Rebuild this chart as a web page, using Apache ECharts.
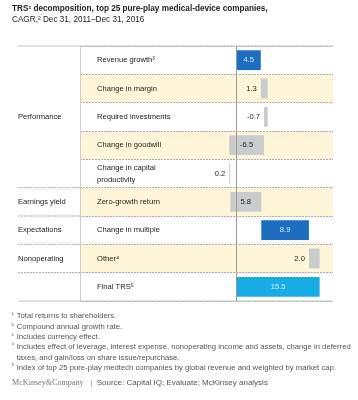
<!DOCTYPE html>
<html>
<head>
<meta charset="utf-8">
<script src="https://cdn.jsdelivr.net/npm/echarts@6/dist/echarts.min.js"></script>
<style>html,body{margin:0;padding:0;background:#fff;}#c{width:358px;height:400px;}</style>
</head>
<body>
<div id="c"></div>
<script>
// ---- data ----
const categories = ['Revenue growth³', 'Change in margin', 'Required investments', 'Change in goodwill',
  'Change in capital\nproductivity', 'Zero-growth return', 'Change in multiple', 'Other⁴', 'Final TRS⁵'];
const values = [4.5, 1.3, -0.7, -6.5, 0.2, 5.8, 8.9, 2.0, 15.5];
const kinds = ['main', 'delta', 'delta', 'delta', 'delta', 'delta', 'main', 'delta', 'total'];
const groupNames = ['Performance', 'Earnings yield', 'Expectations', 'Nonoperating'];
const groupStart = [0, 5, 6, 7];
const groupEnd = [4, 5, 6, 7];
const titleLines = ['TRS¹ decomposition, top 25 pure-play medical-device companies,', 'CAGR,² Dec 31, 2011–Dec 31, 2016'];
const footnotes = [
  ['¹', 'Total returns to shareholders.'],
  ['²', 'Compound annual growth rate.'],
  ['³', 'Includes currency effect.'],
  ['⁴', 'Includes effect of leverage, interest expense, nonoperating income and assets, change in deferred'],
  ['', 'taxes, and gain/loss on share issue/repurchase.'],
  ['⁵', 'Index of top 25 pure-play medtech companies by global revenue and weighted by market cap.']
];
const sourceText = 'Source: Capital IQ; Evaluate; McKinsey analysis';

// waterfall ranges built from the values
const ranges = [];
let run = 0;
values.forEach((v, i) => {
  if (kinds[i] === 'total') { ranges.push([i, 0, v, v]); }
  else { ranges.push([i, run, run + v, v]); run += v; }
});

const FONT = '"Liberation Sans", Arial, Helvetica, sans-serif';
const colors = { main: '#1C6FBF', delta: '#C9CCCC', total: '#17ACE6' };
const labelColors = { main: '#DCEAF8', delta: '#222', total: '#DCEFFA' };

const chart = echarts.init(document.getElementById('c'), null, { renderer: 'canvas' });

const option = {
  animation: false,
  backgroundColor: '#fff',
  grid: { left: 80, right: 25, top: 46, bottom: 99, containLabel: false },
  xAxis: { type: 'value', min: -29.3, max: 18, show: false },
  yAxis: {
    type: 'category', inverse: true, data: categories,
    axisLine: { show: true, onZero: false, lineStyle: { color: '#cfcfcf', width: 1 } },
    axisTick: { show: false },
    axisLabel: { inside: true, margin: 17, align: 'left', color: '#222', fontFamily: FONT, fontSize: 7.6, lineHeight: 12 },
    splitLine: { show: true, lineStyle: { color: '#aaa', type: [2, 1], width: 1 } },
    splitArea: { show: true, areaStyle: { color: ['#ffffff', '#FFF6D9'] } }
  },
  series: [{
    type: 'custom',
    data: ranges,
    encode: { x: [1, 2], y: 0 },
    renderItem: function (params, api) {
      const cat = api.value(0), s = api.value(1), e = api.value(2), v = api.value(3);
      const p0 = api.coord([s, cat]);
      const p1 = api.coord([e, cat]);
      const bh = api.size([0, 1])[1] * 0.7;
      const x = Math.min(p0[0], p1[0]);
      const w = Math.max(Math.abs(p1[0] - p0[0]), 1);
      const k = kinds[params.dataIndex];
      const inside = w >= 22;
      const txt = v.toFixed(1);
      return {
        type: 'group',
        children: [
          { type: 'rect', shape: { x: x, y: p0[1] - bh / 2, width: w, height: bh }, style: { fill: colors[k] } },
          { type: 'text', style: {
            text: txt, x: inside ? x + w / 2 : x - 4, y: p0[1],
            align: inside ? 'center' : 'right', verticalAlign: 'middle',
            fill: inside ? labelColors[k] : '#222', font: '7.6px ' + FONT
          } }
        ]
      };
    },
    markLine: {
      silent: true, symbol: 'none', label: { show: false },
      lineStyle: { color: '#9a9a9a', type: 'solid', width: 1 },
      data: [{ xAxis: 0 }]
    },
    z: 3
  }]
};
chart.setOption(option);

// layout helpers from the axis scale
const yc = i => chart.convertToPixel({ yAxisIndex: 0 }, i);
const band = yc(1) - yc(0);
const topY = yc(0) - band / 2;
const botY = yc(categories.length - 1) + band / 2;
const leftX = 18, rightX = 333;

const g = [];
titleLines.forEach((t, i) => g.push({ type: 'text', left: 12, top: 5 + i * 10.7,
  style: { text: t, font: (i === 0 ? 'bold ' : '') + '8.2px ' + FONT, fill: '#222' } }));
g.push({ type: 'line', shape: { x1: leftX, y1: topY, x2: rightX, y2: topY }, style: { stroke: '#c4c4c4', lineWidth: 1.2 }, z: 10 });
g.push({ type: 'line', shape: { x1: leftX, y1: botY, x2: rightX, y2: botY }, style: { stroke: '#c4c4c4', lineWidth: 1.2 }, z: 10 });
groupNames.forEach((n, i) => {
  const yMid = (yc(groupStart[i]) + yc(groupEnd[i])) / 2;
  g.push({ type: 'text', x: leftX, y: yMid, style: { text: n, font: '7.6px ' + FONT, fill: '#222', verticalAlign: 'middle' } });
  if (i > 0) {
    const yb = yc(groupStart[i]) - band / 2;
    g.push({ type: 'line', shape: { x1: leftX, y1: yb, x2: 80, y2: yb }, style: { stroke: '#aaa', lineWidth: 1, lineDash: [2, 1] } });
  }
});
{ const yb = yc(categories.length - 1) - band / 2;
  g.push({ type: 'line', shape: { x1: leftX, y1: yb, x2: 80, y2: yb }, style: { stroke: '#aaa', lineWidth: 1, lineDash: [2, 1] } }); }
footnotes.forEach((f, i) => {
  const y = 316 + i * 10.4;
  if (f[0]) g.push({ type: 'text', x: 11.5, y: y - 1.5, style: { text: f[0], font: '6.4px ' + FONT, fill: '#555', verticalAlign: 'middle' } });
  g.push({ type: 'text', x: 16.7, y: y, style: { text: f[1], font: '7.7px ' + FONT, fill: '#555', verticalAlign: 'middle' } });
});
g.push({ type: 'text', x: 12, y: 382.5, style: { text: 'McKinsey&Company', font: '8.1px "Liberation Serif", "Times New Roman", serif', fill: '#777', verticalAlign: 'middle' } });
g.push({ type: 'text', x: 90.5, y: 382.5, style: { text: '|', font: '7.6px ' + FONT, fill: '#888', verticalAlign: 'middle' } });
g.push({ type: 'text', x: 96.7, y: 382.5, style: { text: sourceText, font: '8px ' + FONT, fill: '#555', verticalAlign: 'middle' } });
chart.setOption({ graphic: { elements: g } });
</script>
</body>
</html>
